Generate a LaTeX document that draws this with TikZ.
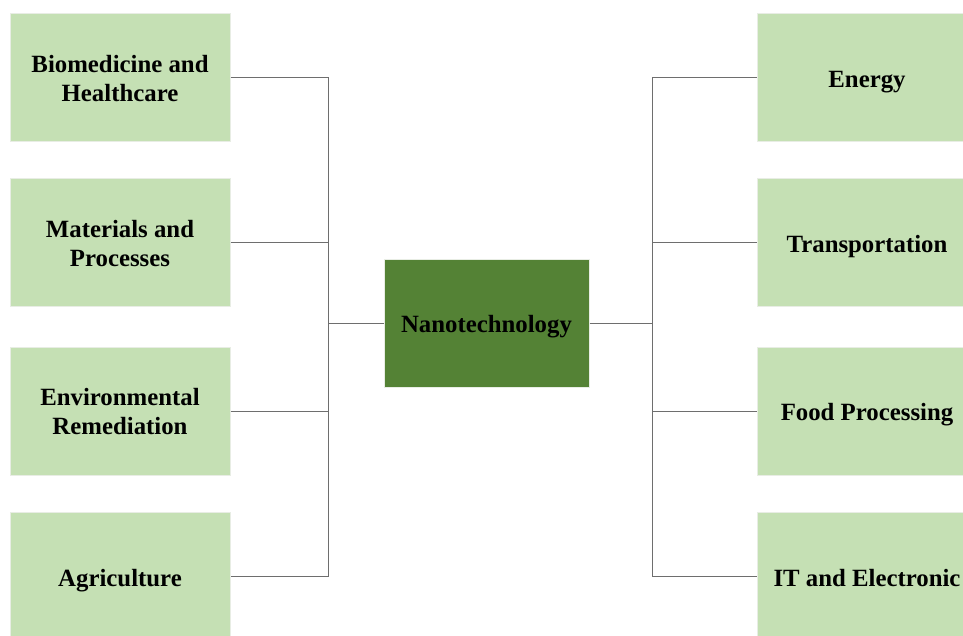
\documentclass[tikz,border=0pt]{standalone}
\usepackage{fontspec}
\setmainfont{Liberation Serif}
\definecolor{lightbox}{HTML}{C5E0B4}
\definecolor{darkbox}{HTML}{548235}
\definecolor{boxedge}{HTML}{E8EDE4}
\definecolor{linecol}{HTML}{6E6E6E}
\begin{document}
\begin{tikzpicture}[x=1pt,y=-1pt,
  topicbox/.style={draw=boxedge, line width=1pt, fill=lightbox, minimum width=220pt, minimum height=128pt,
    inner sep=0pt},
  hubbox/.style={draw=boxedge, line width=1pt, fill=darkbox, minimum width=205pt, minimum height=128pt,
    inner sep=0pt},
  boxlabel/.style={inner sep=0pt, align=center, font=\fontsize{24.8}{29}\selectfont\bfseries},
  link/.style={draw=linecol, line width=0.8pt}]
\useasboundingbox (0,0) rectangle (963,635);
\clip (0,0) rectangle (963,635);
\fill[white] (0,0) rectangle (963,635);
% left column
\node[topicbox] (b1) at (120,77) {};
\node[topicbox] (b2) at (120,242.5) {};
\node[topicbox] (b3) at (120,411) {};
\node[topicbox] (b4) at (120,576) {};
% right column
\node[topicbox] (r1) at (867,77) {};
\node[topicbox] (r2) at (867,242.5) {};
\node[topicbox] (r3) at (867,411) {};
\node[topicbox] (r4) at (867,576) {};
% hub
\node[hubbox] (nano) at (486.5,323) {};
% labels
\node[boxlabel] (b1t) at ([yshift=-1.5pt]b1.center) {Biomedicine and\\Healthcare};
\node[boxlabel] (b2t) at ([yshift=-1.5pt]b2.center) {Materials and\\Processes};
\node[boxlabel] (b3t) at ([yshift=-0.5pt]b3.center) {Environmental\\Remediation};
\node[boxlabel] (b4t) at ([yshift=-5pt]b4.center) {Agriculture};
\node[boxlabel] (r1t) at ([yshift=-5pt]r1.center) {Energy};
\node[boxlabel] (r2t) at ([yshift=-4pt]r2.center) {Transportation};
\node[boxlabel] (r3t) at ([yshift=-4pt]r3.center) {Food Processing};
\node[boxlabel] (r4t) at ([yshift=-2pt]r4.center) {IT and Electronic};
\node[boxlabel] (nanot) at ([yshift=-4pt]nano.center) {Nanotechnology};
% buses
\coordinate (lbus) at (328,323);
\coordinate (rbus) at (652,323);
\draw[link] (b1.east) -- (b1.east -| lbus) -- (b4.east -| lbus) -- (b4.east);
\draw[link] (b2.east) -- (b2.east -| lbus);
\draw[link] (b3.east) -- (b3.east -| lbus);
\draw[link] (nano.west) -- (lbus);
\draw[link] (r1.west) -- (r1.west -| rbus) -- (r4.west -| rbus) -- (r4.west);
\draw[link] (r2.west) -- (r2.west -| rbus);
\draw[link] (r3.west) -- (r3.west -| rbus);
\draw[link] (nano.east) -- (rbus);
\end{tikzpicture}
\end{document}
